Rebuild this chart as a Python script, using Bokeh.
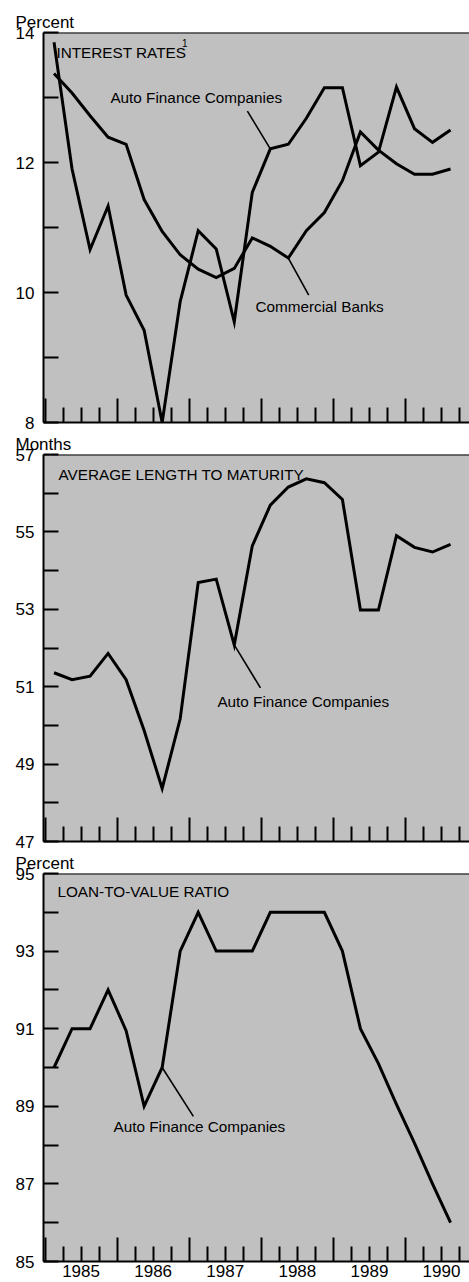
from bokeh.plotting import figure
from bokeh.models import FixedTicker, LinearAxis, Range1d, Label, Span, CustomJSTickFormatter
from bokeh.layouts import column
from bokeh.embed import file_html
from bokeh.resources import INLINE

# ---------------- data ----------------
quarters = ["1985Q1", "1985Q2", "1985Q3", "1985Q4",
            "1986Q1", "1986Q2", "1986Q3", "1986Q4",
            "1987Q1", "1987Q2", "1987Q3", "1987Q4",
            "1988Q1", "1988Q2", "1988Q3", "1988Q4",
            "1989Q1", "1989Q2", "1989Q3", "1989Q4",
            "1990Q1", "1990Q2", "1990Q3"]

auto_rate = [13.85, 11.9, 10.66, 11.33, 9.96, 9.42, 8.0, 9.86, 10.95, 10.67, 9.55, 11.54,
             12.21, 12.28, 12.68, 13.15, 13.15, 11.95, 12.16, 13.16, 12.52, 12.31, 12.5]
bank_rate = [13.37, 13.07, 12.72, 12.39, 12.28, 11.43, 10.94, 10.58, 10.36, 10.23, 10.37, 10.84,
             10.71, 10.53, 10.95, 11.23, 11.72, 12.47, 12.19, 11.98, 11.82, 11.82, 11.9]
auto_maturity = [51.36, 51.18, 51.27, 51.86, 51.18, 49.87, 48.37, 50.17, 53.69, 53.78, 52.08, 54.64,
                 55.69, 56.16, 56.37, 56.27, 55.84, 52.98, 52.98, 54.9, 54.6, 54.48, 54.68]
auto_ltv = [90.0, 91.0, 91.0, 92.0, 90.95, 89.0, 90.0, 93.0, 94.0, 93.0, 93.0, 93.0,
            94.0, 94.0, 94.0, 94.0, 93.0, 91.0, 90.1, 89.05, 88.05, 87.0, 86.0]

year_labels = ["1985", "1986", "1987", "1988", "1989", "1990"]

# x position of each quarter: middle of the quarter, in years
xq = [int(q[:4]) + (int(q[5]) - 0.5) / 4.0 for q in quarters]
years = [int(y) for y in year_labels]
year_bounds = years + [years[-1] + 1]
quarter_bounds = [y + k / 4.0 for y in years for k in (1, 2, 3)]
year_mids = [y + 0.5 for y in years]

X0, X1 = 1984.979, 1990.888
FONT = "Liberation Sans"
ANN_SIZE = "15.3px"
BG = "#c0c0c0"


def make_panel(unit, y0, y1, label_ticks, minor_ticks, height, top, bottom, years_axis):
    p = figure(width=469, height=height, x_range=Range1d(X0, X1), y_range=Range1d(y0, y1),
               output_backend="svg", toolbar_location=None,
               x_axis_type=None, y_axis_type=None,
               min_border_left=43, min_border_right=0,
               min_border_top=top, min_border_bottom=bottom)
    p.background_fill_color = BG
    p.border_fill_color = "white"
    p.outline_line_color = None

    p.title.text = unit
    p.title.align = "left"
    p.title.offset = -28
    p.title.standoff = 1
    p.title.text_font = FONT
    p.title.text_font_size = "17px"
    p.title.text_font_style = "normal"
    p.title.text_color = "black"

    yax = LinearAxis(ticker=FixedTicker(ticks=label_ticks, minor_ticks=minor_ticks),
                     major_tick_in=15, major_tick_out=0, minor_tick_in=15, minor_tick_out=0,
                     axis_line_width=2, major_tick_line_width=2, minor_tick_line_width=2,
                     major_label_standoff=9, major_label_text_font=FONT,
                     major_label_text_color="black",
                     major_label_text_font_size="17px")
    p.add_layout(yax, "left")

    xax = LinearAxis(ticker=FixedTicker(ticks=year_bounds, minor_ticks=quarter_bounds),
                     formatter=CustomJSTickFormatter(code="return ''"),
                     major_tick_in=24, major_tick_out=0, minor_tick_in=15, minor_tick_out=0,
                     axis_line_width=2, major_tick_line_width=2, minor_tick_line_width=2,
                     major_label_text_font_size="1px", major_label_standoff=0)
    p.add_layout(xax, "below")

    if years_axis:
        yr = LinearAxis(ticker=FixedTicker(ticks=year_mids),
                        major_label_overrides={m: l for m, l in zip(year_mids, year_labels)},
                        major_tick_in=0, major_tick_out=0, minor_tick_in=0, minor_tick_out=0,
                        axis_line_color=None, major_label_standoff=3,
                        major_label_text_color="black",
                        major_label_text_font=FONT, major_label_text_font_size="17px")
        p.add_layout(yr, "below")

    p.add_layout(Span(location=y1, dimension="width", line_color="black", line_width=2))
    return p


def add_text(p, x, y, txt, size=ANN_SIZE):
    p.add_layout(Label(x=x, y=y, text=txt, text_font=FONT, text_font_size=size,
                       text_align="left", text_baseline="middle", text_color="black"))


# ---------------- panel 1: interest rates ----------------
p1 = make_panel("Percent", 8, 14, [8, 10, 12, 14], [9, 11, 13], 432, 32, 10, False)
p1.line(xq, auto_rate, line_color="black", line_width=3, line_join="miter")
p1.line(xq, bank_rate, line_color="black", line_width=3, line_join="miter")
add_text(p1, 1985.158, 13.69, "INTEREST RATES")
add_text(p1, 1986.90, 13.84, "1", size="10px")
add_text(p1, 1985.907, 13.0, "Auto Finance Companies")
add_text(p1, 1987.918, 9.78, "Commercial Banks")
p1.segment(x0=[1987.807], y0=[12.79], x1=[xq[12]], y1=[auto_rate[12]],
           line_color="black", line_width=1.6)
p1.segment(x0=[1988.658], y0=[9.96], x1=[xq[13]], y1=[bank_rate[13]],
           line_color="black", line_width=1.6)

# ---------------- panel 2: maturity ----------------
p2 = make_panel("Months", 47, 57, [47, 49, 51, 53, 55, 57], [48, 50, 52, 54, 56], 419, 21, 10, False)
p2.line(xq, auto_maturity, line_color="black", line_width=3, line_join="miter")
add_text(p2, 1985.186, 56.48, "AVERAGE LENGTH TO MATURITY")
add_text(p2, 1987.391, 50.61, "Auto Finance Companies")
p2.segment(x0=[1987.988], y0=[50.97], x1=[xq[10]], y1=[auto_maturity[10]],
           line_color="black", line_width=1.6)

# ---------------- panel 3: loan-to-value ----------------
p3 = make_panel("Percent", 85, 95, [85, 87, 89, 91, 93, 95], [86, 88, 90, 92, 94], 431, 21, 21, True)
p3.line(xq, auto_ltv, line_color="black", line_width=3, line_join="miter")
add_text(p3, 1985.172, 94.54, "LOAN-TO-VALUE RATIO")
add_text(p3, 1985.949, 88.49, "Auto Finance Companies")
p3.segment(x0=[1987.058], y0=[88.74], x1=[xq[6]], y1=[auto_ltv[6]],
           line_color="black", line_width=1.6)

layout = column(p1, p2, p3, spacing=0)
open("out.html", "w").write(file_html(layout, INLINE))
